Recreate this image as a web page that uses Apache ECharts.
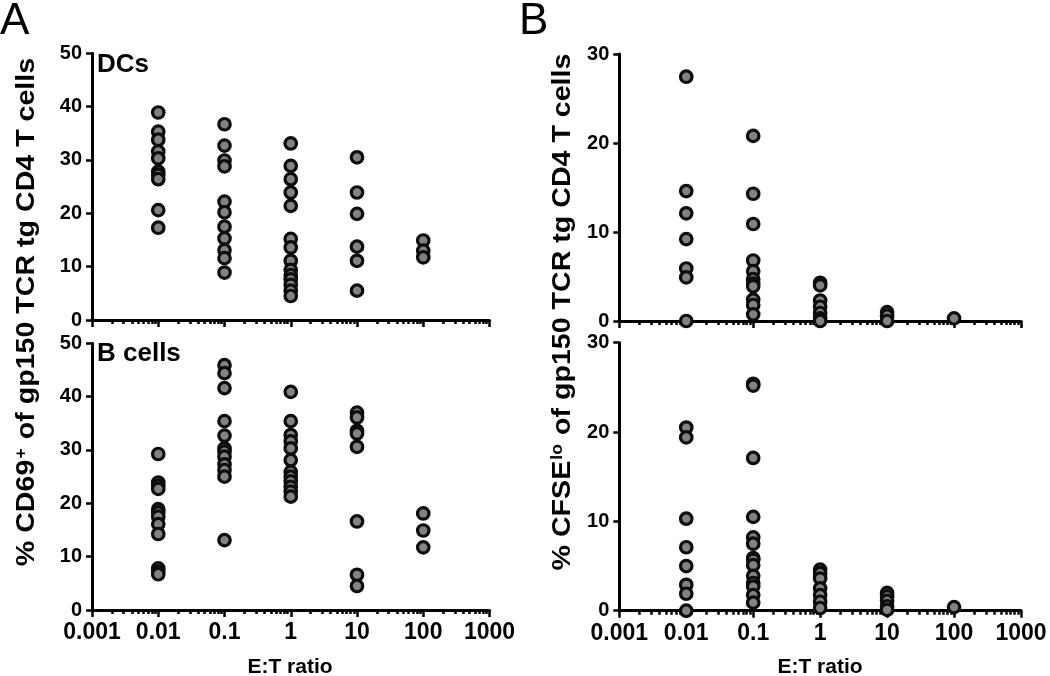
<!DOCTYPE html>
<html>
<head>
<meta charset="utf-8">
<script src="https://cdn.jsdelivr.net/npm/echarts@6/dist/echarts.min.js"></script>
<style>
html,body{margin:0;padding:0;background:#fff;}
#chart{width:1050px;height:676px;}
</style>
</head>
<body>
<div id="chart"></div>
<script>
// E:T ratios (x positions of the columns)
const ratios = [0.01, 0.1, 1, 10, 100];
const xTickLabels = ['0.001', '0.01', '0.1', '1', '10', '100', '1000'];
const xMinorTicks = [0.002,0.003,0.004,0.005,0.006,0.007,0.008,0.009,
  0.02,0.03,0.04,0.05,0.06,0.07,0.08,0.09,
  0.2,0.3,0.4,0.5,0.6,0.7,0.8,0.9,
  2,3,4,5,6,7,8,9,
  20,30,40,50,60,70,80,90,
  200,300,400,500,600,700,800,900];

// Panel A top: DCs, % CD69+
const dcsCD69 = [
  [38.9, 35.3, 33.8, 31.6, 30.3, 27.8, 27.2, 26.4, 20.6, 17.3],
  [36.7, 32.7, 29.9, 28.8, 22.2, 20.2, 17.5, 15.3, 13.1, 11.6, 8.9],
  [33.1, 28.9, 26.4, 23.9, 21.4, 15.2, 13.6, 11.1, 9.4, 8.4, 7.6, 6.6, 5.5, 4.5],
  [30.5, 23.9, 19.9, 13.75, 11.1, 5.5],
  [14.9, 13.0, 11.75]
];
// Panel A bottom: B cells, % CD69+
const bCellsCD69 = [
  [29.25, 23.9, 23.3, 22.7, 18.9, 18.3, 17.5, 16.1, 14.25, 7.8, 7.2, 6.7],
  [45.9, 44.4, 41.6, 35.4, 32.7, 30.3, 29.7, 28.75, 27.3, 26.25, 25, 13.1],
  [40.9, 35.4, 32.8, 31.6, 30.3, 28.1, 25.9, 25, 24.1, 23.1, 22.2, 21.25],
  [37, 36.1, 33.6, 33.1, 30.6, 16.6, 6.6, 4.5],
  [18.1, 14.9, 11.75]
];
// Panel B top: DCs, % CFSElo
const dcsCFSE = [
  [27.45, 14.6, 12.1, 9.2, 5.9, 4.9, 0],
  [20.8, 14.3, 10.9, 6.8, 5.6, 4.7, 4.2, 3.9, 2.4, 1.8, 0.75],
  [4.3, 4.0, 2.3, 1.6, 0.9, 0.3, 0],
  [1.0, 0.6, 0],
  [0.3]
];
// Panel B bottom: B cells, % CFSElo
const bCellsCFSE = [
  [20.5, 19.4, 10.3, 7.1, 5.0, 2.9, 1.9, 0],
  [25.4, 25.2, 17.1, 10.5, 8.2, 7.5, 5.9, 5.7, 5.1, 3.9, 3.1, 2.7, 1.75, 0.9],
  [4.6, 4.2, 3.6, 2.5, 1.75, 1.0, 0.3],
  [2.0, 1.6, 1.1, 0.5, 0.1],
  [0.4]
];
const yTicksA = {min: 0, max: 50, interval: 10};
const yTicksB = {min: 0, max: 30, interval: 10};

const FONT = 'Liberation Sans';
function toPoints(cols) {
  const pts = [];
  cols.forEach((vals, i) => vals.forEach(v => pts.push([ratios[i], v])));
  return pts;
}

const grids = [
  {left: 92, top: 53.3, width: 397.5, height: 266.7},
  {left: 92, top: 343.3, width: 397.5, height: 266.7},
  {left: 619.3, top: 54, width: 401.7, height: 267},
  {left: 619.3, top: 342.7, width: 401.7, height: 268}
];
const panelData = [dcsCD69, bCellsCD69, dcsCFSE, bCellsCFSE];
const panelY = [yTicksA, yTicksA, yTicksB, yTicksB];
const showXLabels = [false, true, false, true];

const xAxes = [], yAxes = [], series = [];
grids.forEach((g, gi) => {
  xAxes.push({
    type: 'log', logBase: 10, gridIndex: gi, min: 0.001, max: 1000, interval: 1,
    position: 'bottom',
    axisLine: {show: true, onZero: false, lineStyle: {color: '#000', width: 3}},
    axisTick: {show: true, inside: false, length: 7, lineStyle: {color: '#000', width: 2.5}},
    axisLabel: {
      show: showXLabels[gi], margin: 11, color: '#000',
      fontFamily: FONT, fontWeight: 'bold', fontSize: 23,
      formatter: v => xTickLabels[Math.round(Math.log10(v)) + 3]
    },
    splitLine: {show: false}
  });
  xAxes.push({
    type: 'log', logBase: 10, gridIndex: gi, min: 0.001, max: 1000,
    position: 'bottom',
    axisLine: {show: false},
    axisTick: {show: true, inside: false, length: 4, customValues: xMinorTicks,
      lineStyle: {color: '#000', width: 2.5}},
    axisLabel: {show: false},
    splitLine: {show: false}
  });
  yAxes.push({
    type: 'value', gridIndex: gi, min: panelY[gi].min, max: panelY[gi].max, interval: panelY[gi].interval,
    axisLine: {show: true, lineStyle: {color: '#000', width: 3}},
    axisTick: {show: true, inside: false, length: 6, lineStyle: {color: '#000', width: 2.5}},
    axisLabel: {margin: 10, color: '#000', fontFamily: FONT, fontWeight: 'bold', fontSize: 20},
    splitLine: {show: false}
  });
  series.push({
    type: 'scatter', xAxisIndex: gi * 2, yAxisIndex: gi,
    data: toPoints(panelData[gi]),
    symbol: 'circle', symbolSize: 11.5, clip: false,
    itemStyle: {color: '#828282', borderColor: '#0d0d0d', borderWidth: 3.2, opacity: 1}
  });
});

function yTitle(x, y, main, sup, rest) {
  return {
    type: 'text', x: x, y: y, rotation: Math.PI / 2, scaleX: 1.1,
    style: {
      text: '{m|' + main + '}{s|' + sup + '}{m|' + rest + '}',
      align: 'center', verticalAlign: 'middle', fill: '#000',
      rich: {
        m: {fontFamily: FONT, fontWeight: 'bold', fontSize: 26, fill: '#000'},
        s: {fontFamily: FONT, fontWeight: 'bold', fontSize: 16, fill: '#000', verticalAlign: 'top', padding: [0, 1, 0, 1]}
      }
    }
  };
}
function label(x, y, text, size, weight, align) {
  return {
    type: 'text', x: x, y: y,
    style: {text: text, fontFamily: FONT, fontWeight: weight, fontSize: size, fill: '#000',
      align: align || 'left', verticalAlign: 'middle'}
  };
}

const option = {
  animation: false,
  backgroundColor: '#fff',
  grid: grids,
  xAxis: xAxes,
  yAxis: yAxes,
  series: series,
  graphic: [
    label(0, 22, 'A', 44, 'normal'),
    label(519, 22, 'B', 44, 'normal'),
    label(97, 65, 'DCs', 26, 'bold'),
    label(97, 354, 'B cells', 26, 'bold'),
    label(290, 667, 'E:T ratio', 21, 'bold', 'center'),
    label(820, 667, 'E:T ratio', 21, 'bold', 'center'),
    yTitle(27, 312, '% CD69', '+', ' of gp150 TCR tg CD4 T cells'),
    yTitle(563, 312, '% CFSE', 'lo', ' of gp150 TCR tg CD4 T cells')
  ]
};
const chart = echarts.init(document.getElementById('chart'), null, {renderer: 'canvas'});
chart.setOption(option);
</script>
</body>
</html>
